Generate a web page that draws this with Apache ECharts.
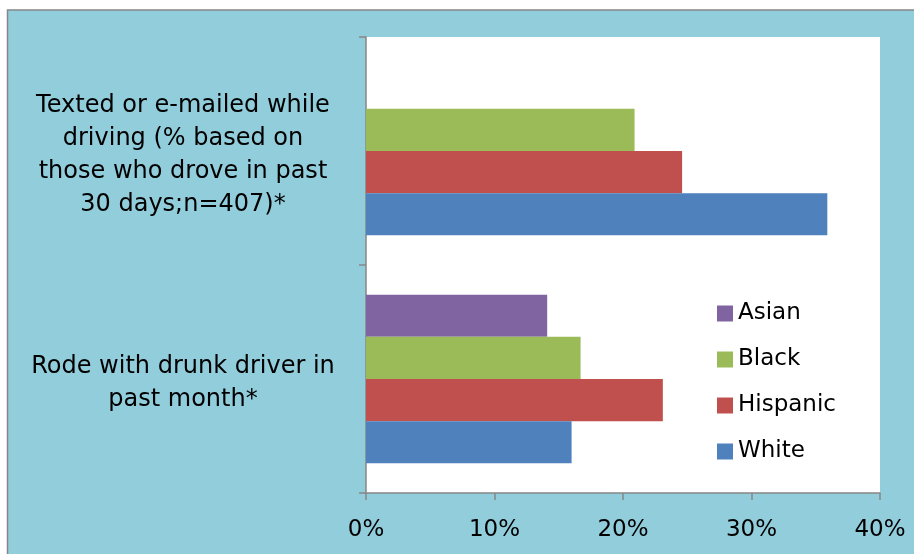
<!DOCTYPE html>
<html>
<head>
<meta charset="utf-8">
<script src="https://cdn.jsdelivr.net/npm/echarts@6/dist/echarts.min.js"></script>
<style>
  html, body { margin: 0; padding: 0; background: #fff; }
  #chart { width: 914px; height: 554px; }
</style>
</head>
<body>
<div id="chart"></div>
<script>
// categories, bottom to top
var categories = [
  'Rode with drunk driver in\npast month*',
  'Texted or e-mailed while\ndriving (% based on\nthose who drove in past\n30 days;n=407)*'
];
var white = [16.0, 35.9];
var hispanic = [23.1, 24.6];
var black = [16.7, 20.9];
var asian = [14.1, null];
var xTicks = [0, 10, 20, 30, 40];

var font = '"DejaVu Sans", sans-serif';
var axisGray = '#868686';

var chart = echarts.init(document.getElementById('chart'));

function bar(name, data, color) {
  return {
    name: name,
    type: 'bar',
    data: data,
    barGap: '0%',
    barCategoryGap: '26%',
    itemStyle: { color: color },
    emphasis: { disabled: true }
  };
}

chart.setOption({
  backgroundColor: '#fff',
  animation: false,
  textStyle: { fontFamily: font },
  graphic: {
    elements: [{
      type: 'rect',
      z: -100,
      silent: true,
      shape: { x: 7.5, y: 10, width: 920, height: 560 },
      style: { fill: '#92CDDC', stroke: '#878787', lineWidth: 1.5 }
    }]
  },
  grid: {
    left: 366, right: 34, top: 37, bottom: 61,
    show: true, backgroundColor: '#fff', borderWidth: 0
  },
  legend: {
    orient: 'vertical',
    left: 712,
    top: 297,
    itemWidth: 16,
    itemHeight: 16,
    itemGap: 23,
    icon: 'rect',
    data: ['Asian', 'Black', 'Hispanic', 'White'],
    textStyle: { fontFamily: font, fontSize: 23, color: '#000', padding: [0, 0, 0, 0] },
    selectedMode: false
  },
  xAxis: {
    type: 'value',
    min: xTicks[0],
    max: xTicks[xTicks.length - 1],
    interval: 10,
    splitLine: { show: false },
    axisLine: { show: true, lineStyle: { color: axisGray, width: 1.5 } },
    axisTick: { show: true, length: 7, lineStyle: { color: axisGray, width: 1.5 } },
    axisLabel: {
      formatter: '{value}%',
      fontFamily: font, fontSize: 23, color: '#000', margin: 26
    }
  },
  yAxis: {
    type: 'category',
    data: categories,
    axisLine: { show: true, lineStyle: { color: axisGray, width: 1.5 } },
    axisTick: { show: true, length: 7, lineStyle: { color: axisGray, width: 1.5 } },
    axisLabel: {
      align: 'center',
      margin: 183,
      // a thin empty first line nudges the block down a little
      formatter: function (v) {
        return '{s| }\n' + v.split('\n').map(function (l) { return '{t|' + l + '}'; }).join('\n');
      },
      rich: {
        s: { fontSize: 1, lineHeight: 8 },
        t: { fontFamily: font, fontSize: 24, color: '#000', lineHeight: 33 }
      }
    }
  },
  // first series is drawn at the top of each band
  series: [
    bar('Asian', asian, '#8064A2'),
    bar('Black', black, '#9BBB59'),
    bar('Hispanic', hispanic, '#C0504D'),
    bar('White', white, '#4F81BD')
  ]
});
</script>
</body>
</html>
